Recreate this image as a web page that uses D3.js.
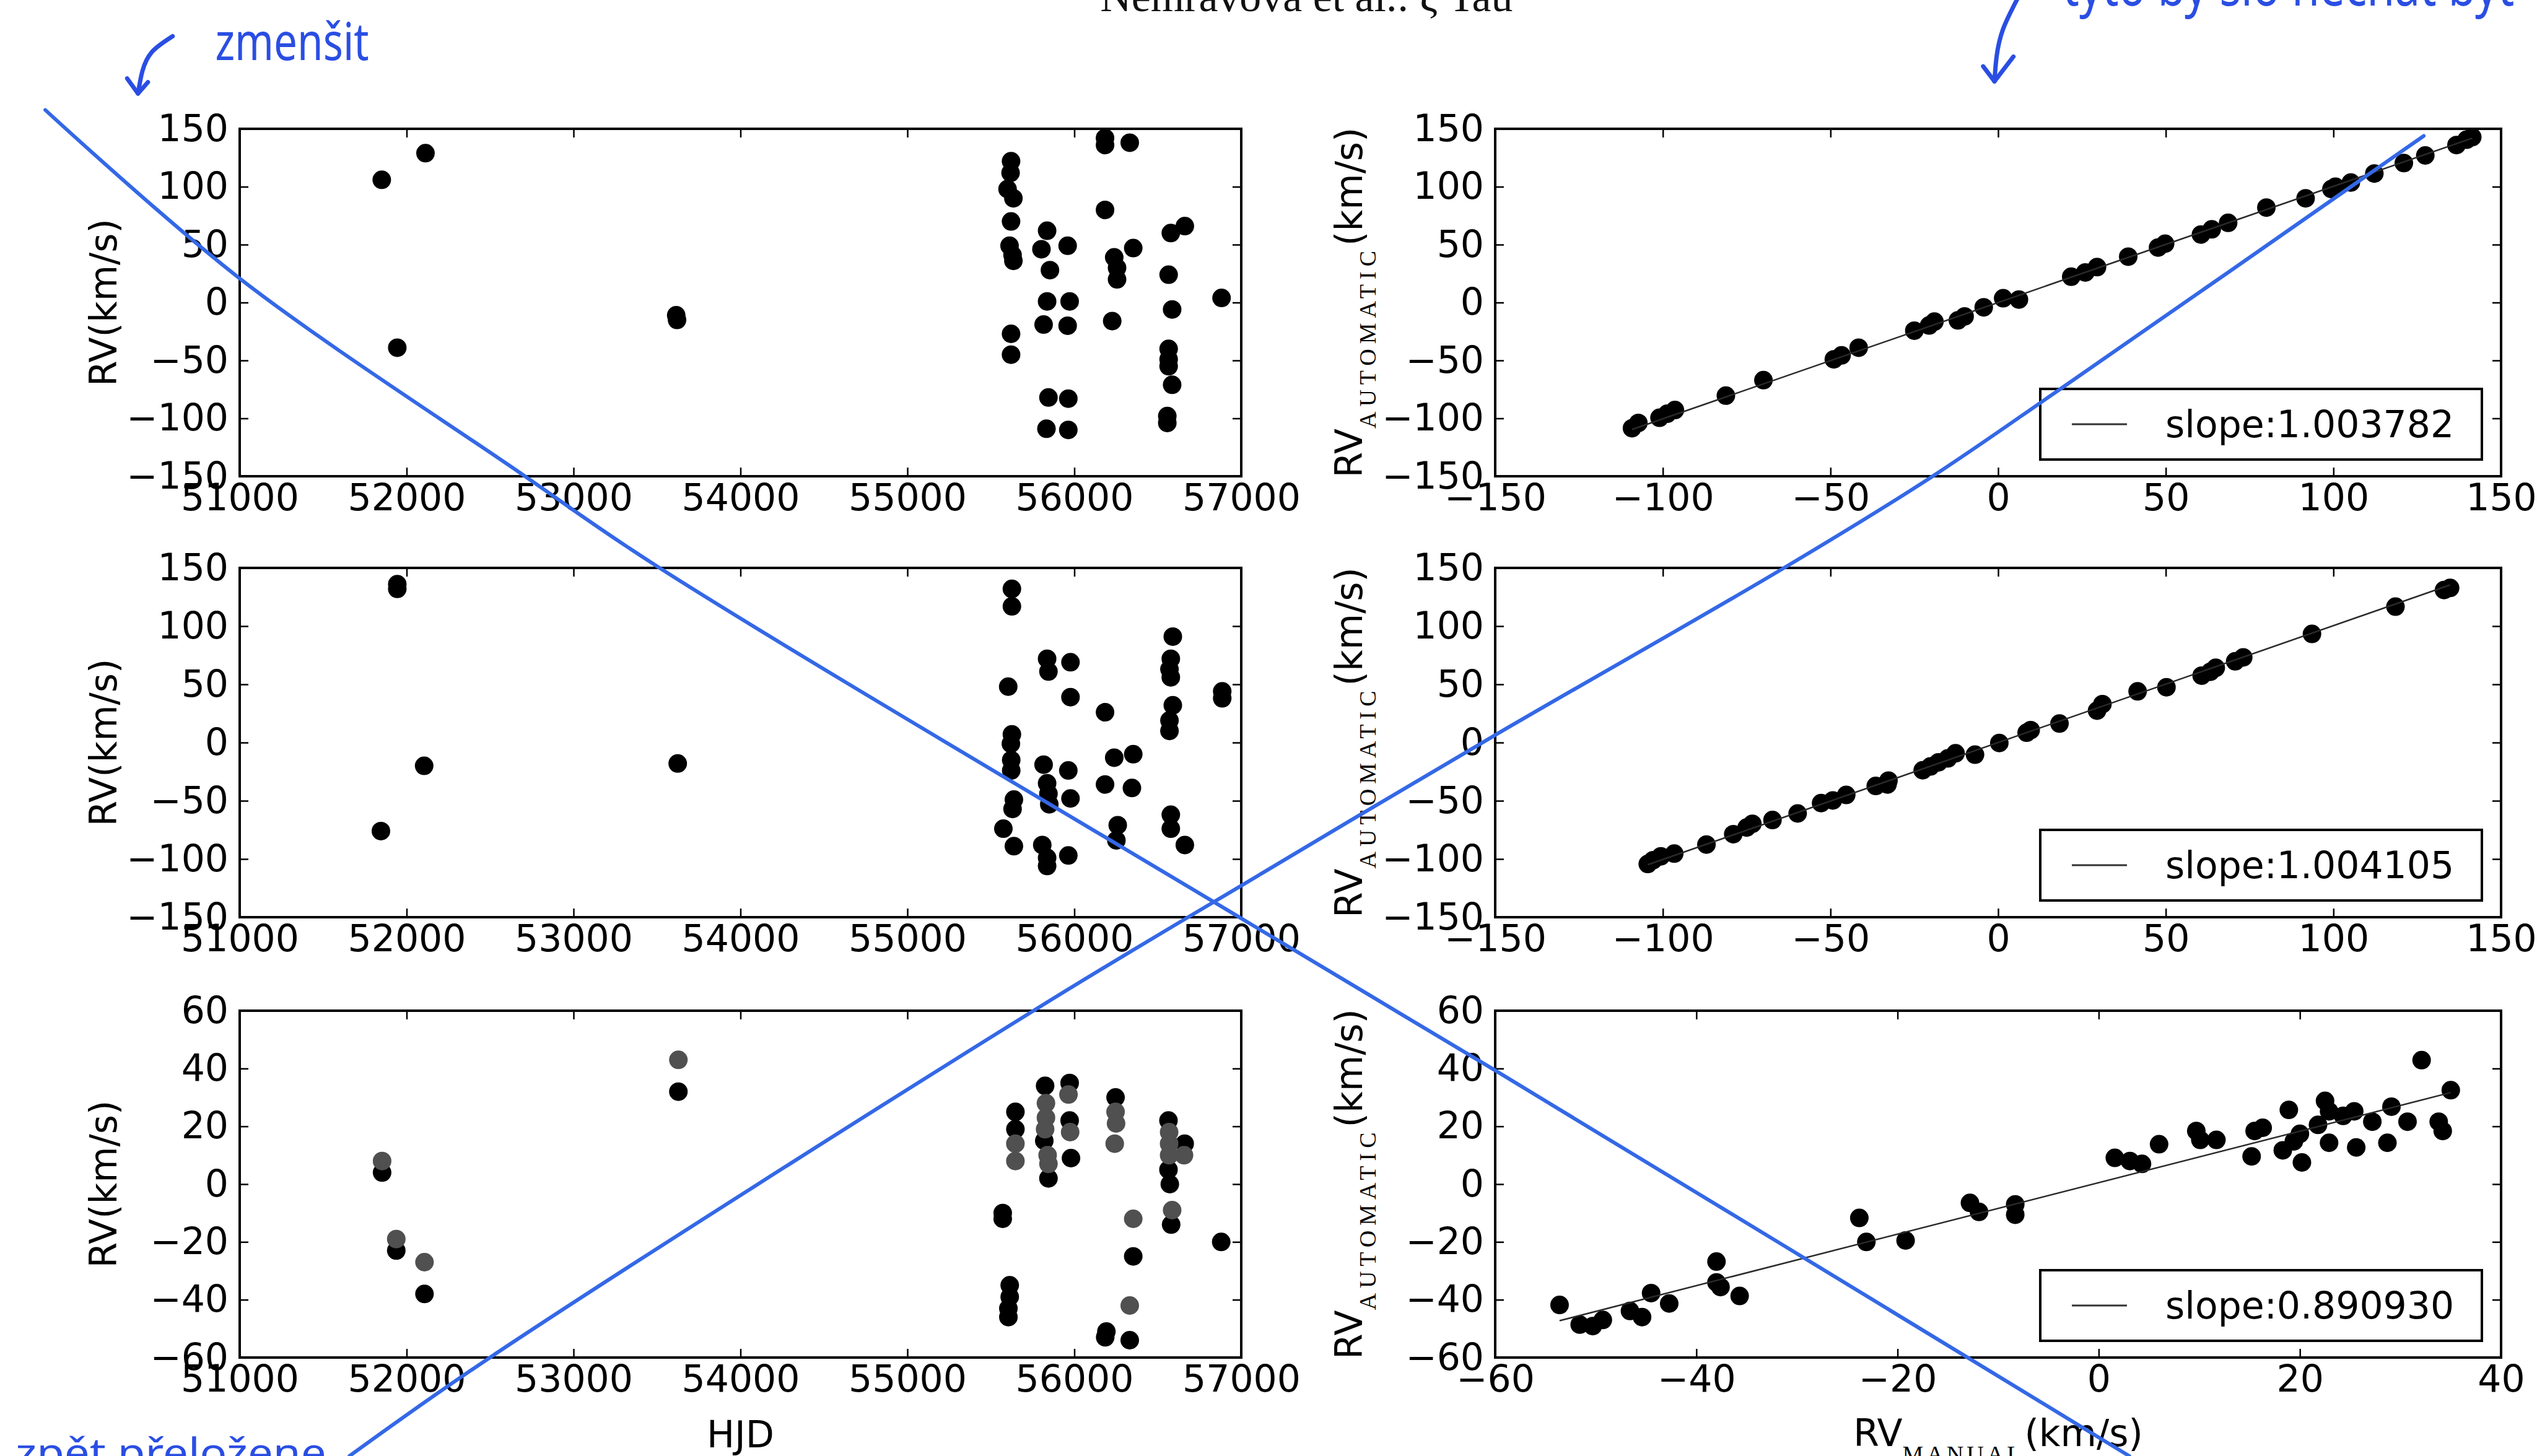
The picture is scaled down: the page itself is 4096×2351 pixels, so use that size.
<!DOCTYPE html>
<html><head><meta charset="utf-8">
<script src="https://cdnjs.cloudflare.com/ajax/libs/d3/7.8.5/d3.min.js"></script>
<style>body{margin:0;background:#fff}svg{display:block}</style>
</head><body>
<script>
// ---------------- DATA ----------------
const hjdTicks = [51000,52000,53000,54000,55000,56000,57000];
const rvTicks = [-150,-100,-50,0,50,100,150];
const rvTicksSmall = [-60,-40,-20,0,20,40,60];
const manTicks = [-150,-100,-50,0,50,100,150];
const manTicksSmall = [-60,-40,-20,0,20,40];

const hjd1 = [51851,52113,51944,53615,53620,55621,55618,55600,55635,55621,55612,55630,55635,55621,55621,55837,55803,55854,55837,55816,55845,55833,55960,55972,55960,55964,55964,56184,56184,56332,56184,56239,56256,56256,56227,56353,56578,56662,56565,56586,56565,56565,56565,56586,56557,56557,56882];
const rv1  = [106,129,-39,-11,-15,122,112,98,90,70,49,41,36,-27,-45,62,46,28,1,-19,-82,-109,49,1,-20,-83,-110,142,136,138,80,39,30,20,-16,47,60,66,24,-6,-40,-49,-55,-71,-98,-104,4];

const hjd2 = [51944,51944,51846,52105,53624,55626,55626,55604,55626,55620,55622,55622,55638,55630,55575,55638,55837,55845,55816,55837,55845,55850,55808,55837,55837,55977,55977,55964,55977,55964,56184,56239,56184,56260,56252,56353,56345,56590,56578,56570,56578,56590,56570,56570,56578,56578,56662,56886,56886];
const rv2  = [132,136,-76,-20,-18,132,117,48,7,-1,-15,-24,-49,-57,-74,-89,72,61,-19,-35,-44,-53,-88,-99,-106,69,39,-24,-48,-97,26,-13,-36,-71,-84,-10,-39,91,72,63,56,32,19,10,-62,-74,-88,44,38];

const hjd3Black = [51853,51938,52107,53628,55571,55571,55613,55613,55605,55605,55647,55647,55825,55820,55845,55972,55972,55980,56192,56185,56247,56353,56332,56564,56564,56572,56580,56661,56880];
const rv3Black  = [4,-23,-38,32,-10,-12,-35,-39,-43,-46,25,19,34,15,2,35,22,9,-51,-53,30,-25,-54,22,5,0,-14,14,-20];
const hjd3Grey  = [51853,51938,52107,53628,55647,55647,55830,55830,55825,55840,55845,55965,55975,56247,56250,56242,56353,56332,56568,56568,56568,56586,56657];
const rv3Grey   = [8,-19,-27,43,14,8,28,23,19,10,7,31,18,25,21,14,-12,-42,18,14,10,-9,10];

const man1  = [-109.2,-107.3,-101,-98.7,-96.4,-81.2,-70,-49,-46.7,-41.6,-25,-20.6,-19,-12,-10,-4.3,1.5,6.2,21.8,26,29.5,38.8,47.7,49.8,60.5,63.7,68.6,80,91.7,99.4,100.6,105.2,112.2,121,127.4,136.7,139.7,141.4];
const auto1 = [-108.5,-104,-99.5,-96,-92.8,-80.4,-67,-49,-45.6,-39,-24.3,-19.8,-16.5,-15.4,-12,-4.1,3.7,2.6,22.3,26,30.6,39.6,47.5,50.8,58.7,63.2,68.8,82,90,98,100,103.6,111.4,120.4,127,136,140.6,142.8];

const man2  = [-104.5,-102.9,-100.6,-96.6,-87,-79,-75,-73.3,-67.3,-59.8,-52.8,-49.3,-45.3,-36.5,-33,-32.7,-22.5,-20.2,-17.8,-15,-12.7,-6.9,0.35,8.5,9.7,18.3,29.5,31.1,41.6,50.2,60.7,63.3,64.9,70.7,73.1,93.6,118.5,133,134.8];
const auto2 = [-104.3,-101,-97.7,-95.4,-87.6,-78.7,-73,-69.8,-66.5,-60.9,-52,-49.7,-45,-37.3,-36,-32.7,-23.8,-20.5,-17,-13.6,-9.2,-10.4,-0.4,8.5,10.7,16.3,27.4,33,44,47.5,57.5,60.8,64.2,69.8,73.2,93.3,116.7,131,132.8];

const man3  = [-53.6,-51.6,-50.3,-49.3,-46.6,-45.4,-44.5,-42.7,-38,-38,-37.6,-35.7,-23.8,-23.1,-19.2,-12.8,-11.9,-8.3,-8.3,1.6,3.1,4.3,6,9.7,10.1,11.7,15.2,15.5,16.3,18.9,18.3,19.4,20,20.2,22.5,22.9,22.9,24.3,25.6,27.2,29.1,28.7,30.7,32.1,33.8,34.2,35,21.8,25.4];
const auto3 = [-41.8,-48.6,-49.1,-47,-43.9,-46,-37.7,-41.3,-26.8,-34,-35.6,-38.7,-11.7,-20,-19.5,-6.5,-9.6,-7,-10.6,9.1,8,7,13.8,18.4,15.3,15.3,9.6,18.4,19.5,25.7,11.7,14.8,17.4,7.5,28.8,25.2,14.3,23.6,12.7,21.6,26.8,14.3,21.6,42.9,21.6,18.4,32.5,20.5,25.2];

const slopes = [1.003782, 1.004105, 0.890930];
const intercepts = [0, 0, 0.5];
const legendLabels = ["slope:1.003782", "slope:1.004105", "slope:0.890930"];

const titleText = "Nemravová et al.: ζ Tau";
const noteTexts = ["zmenšit", "tyto by šlo nechat být", "zpět přeložene"];
// hand-drawn cross-out strokes, in reference-page units (1568 x 900 page)
const strokeA = [[28,68],[148,172],[321,292],[406,350],[766,567],[923,661],[1316,900]];
const strokeB = [[216,900],[303,839],[640,624],[783,538],[923,455],[1101,352],[1192,296],[1274,240],[1498,84]];

// ---------------- LAYOUT ----------------
const W = 4096, H = 2351;
const px = d3.scaleLinear().domain([0,1568]).range([0,W]);
const py = d3.scaleLinear().domain([0,900]).range([0,H]);
const leftX = [387, 2004], rightX = [2414, 4038];
const rowsY = [[208,769],[917,1481],[1632,2192]];
const FONT = "'DejaVu Sans','Bitstream Vera Sans',sans-serif";
const SERIF = "'Liberation Serif','DejaVu Serif',serif";
const fmt = d => d < 0 ? "\u2212" + Math.abs(d) : String(d);

const svg = d3.select("body").append("svg").attr("width", W).attr("height", H)
  .style("background", "#fff");

let clipId = 0;
function panel(xr, yr, xdom, ydom, xticks, yticks) {
  const x = d3.scaleLinear().domain(xdom).range(xr);
  const y = d3.scaleLinear().domain(ydom).range([yr[1], yr[0]]);
  const g = svg.append("g");
  const id = "clip" + (clipId++);
  svg.append("clipPath").attr("id", id).append("rect")
    .attr("x", xr[0]).attr("y", yr[0]).attr("width", xr[1]-xr[0]).attr("height", yr[1]-yr[0]);
  const plot = g.append("g").attr("clip-path", `url(#${id})`);
  const ax = (gen, tr, labels, pad) => {
    const a = g.append("g").attr("transform", tr)
      .call(gen.tickSize(-14).tickPadding(pad).tickFormat(labels ? fmt : ""));
    a.select(".domain").remove();
    a.selectAll("line").attr("stroke", "#000").attr("stroke-width", 2.5);
    a.selectAll("text").attr("font-family", FONT).attr("font-size", 60).attr("fill", "#000");
  };
  ax(d3.axisBottom(x).tickValues(xticks), `translate(0,${yr[1]})`, true, 12);
  ax(d3.axisTop(x).tickValues(xticks), `translate(0,${yr[0]})`, false, 0);
  ax(d3.axisLeft(y).tickValues(yticks), `translate(${xr[0]},0)`, true, 18);
  ax(d3.axisRight(y).tickValues(yticks), `translate(${xr[1]},0)`, false, 0);
  return {x, y, g, plot, xr, yr};
}
function frame(p) {
  p.g.append("rect").attr("x", p.xr[0]).attr("y", p.yr[0])
    .attr("width", p.xr[1]-p.xr[0]).attr("height", p.yr[1]-p.yr[0])
    .attr("fill", "none").attr("stroke", "#000").attr("stroke-width", 4);
}
function dots(p, xs, ys, color) {
  p.plot.selectAll(null).data(xs.map((v,i)=>[v, ys[i]])).enter().append("circle")
    .attr("cx", d => p.x(d[0])).attr("cy", d => p.y(d[1])).attr("r", 15).attr("fill", color);
}

// Left column: RV vs HJD
const lp1 = panel(leftX, rowsY[0], [51000,57000], [-150,150], hjdTicks, rvTicks);
dots(lp1, hjd1, rv1, "#000"); frame(lp1);
const lp2 = panel(leftX, rowsY[1], [51000,57000], [-150,150], hjdTicks, rvTicks);
dots(lp2, hjd2, rv2, "#000"); frame(lp2);
const lp3 = panel(leftX, rowsY[2], [51000,57000], [-60,60], hjdTicks, rvTicksSmall);
dots(lp3, hjd3Black, rv3Black, "#000"); dots(lp3, hjd3Grey, rv3Grey, "#505050"); frame(lp3);

// Right column: automatic vs manual
const rightSets = [
  {xd:[-150,150], yd:[-150,150], xt:manTicks, yt:rvTicks, m:man1, a:auto1},
  {xd:[-150,150], yd:[-150,150], xt:manTicks, yt:rvTicks, m:man2, a:auto2},
  {xd:[-60,40], yd:[-60,60], xt:manTicksSmall, yt:rvTicksSmall, m:man3, a:auto3}
];
rightSets.forEach((s, i) => {
  const p = panel(rightX, rowsY[i], s.xd, s.yd, s.xt, s.yt);
  dots(p, s.m, s.a, "#000");
  const ext = d3.extent(s.m);
  const line = d3.line().x(d => p.x(d)).y(d => p.y(slopes[i]*d + intercepts[i]));
  p.plot.append("path").attr("d", line(ext)).attr("stroke", "#2a2a2a")
    .attr("stroke-width", 2.5).attr("fill", "none");
  frame(p);
  // legend
  const bw = 713, bh = 114;
  const bx = rightX[1] - 31 - bw, by = rowsY[i][1] - 27 - bh;
  const lg = p.g.append("g").attr("transform", `translate(${bx},${by})`);
  lg.append("rect").attr("width", bw).attr("height", bh).attr("fill", "#fff")
    .attr("stroke", "#000").attr("stroke-width", 4);
  lg.append("line").attr("x1", 51).attr("x2", 140).attr("y1", bh/2).attr("y2", bh/2)
    .attr("stroke", "#333").attr("stroke-width", 3);
  lg.append("text").attr("x", 202).attr("y", bh/2 + 21).attr("font-family", FONT)
    .attr("font-size", 60).attr("fill", "#000").text(legendLabels[i]);
});

// Axis labels
rowsY.forEach(r => {
  const cy = (r[0] + r[1]) / 2;
  svg.append("text").attr("transform", `translate(188,${cy}) rotate(-90)`)
    .attr("text-anchor", "middle").attr("font-family", FONT).attr("font-size", 60)
    .attr("fill", "#000").text("RV(km/s)");
  const t = svg.append("text").attr("transform", `translate(2199,${cy}) rotate(-90)`)
    .attr("text-anchor", "middle").attr("font-family", FONT).attr("font-size", 60).attr("fill", "#000");
  t.append("tspan").text("RV");
  t.append("tspan").attr("font-family", SERIF).attr("font-size", 38).attr("dy", 22)
    .attr("letter-spacing", 8).text("AUTOMATIC");
  t.append("tspan").attr("dy", -22).text("(km/s)");
});
svg.append("text").attr("x", (leftX[0]+leftX[1])/2).attr("y", 2337).attr("text-anchor", "middle")
  .attr("font-family", FONT).attr("font-size", 60).attr("fill", "#000").text("HJD");
{
  const t = svg.append("text").attr("x", (rightX[0]+rightX[1])/2).attr("y", 2335)
    .attr("text-anchor", "middle").attr("font-family", FONT).attr("font-size", 60).attr("fill", "#000");
  t.append("tspan").text("RV");
  t.append("tspan").attr("font-family", SERIF).attr("font-size", 38).attr("dy", 26)
    .attr("letter-spacing", 5).text("MANUAL");
  t.append("tspan").attr("dy", -26).text("(km/s)");
}

// Running title (cut at top edge of the scan)
svg.append("text").attr("x", px(807.5)).attr("y", 18).attr("text-anchor", "middle")
  .attr("font-family", SERIF).attr("font-size", 69).attr("fill", "#111")
  .attr("textLength", px(255)).attr("lengthAdjust", "spacingAndGlyphs").text(titleText);

// ---------------- hand annotations ----------------
const BLUE = "#3468e6", INK = "#2a4ee3";
const ann = svg.append("g").attr("fill", "none").attr("stroke-linecap", "round").attr("stroke-linejoin", "round");
const pline = d3.line().x(d => px(d[0])).y(d => py(d[1])).curve(d3.curveCatmullRom);
ann.append("path").attr("d", pline(strokeA)).attr("stroke", BLUE).attr("stroke-width", 6);
ann.append("path").attr("d", pline(strokeB)).attr("stroke", BLUE).attr("stroke-width", 6);

const curve = d3.line().x(d => px(d[0])).y(d => py(d[1])).curve(d3.curveNatural);
ann.append("path").attr("d", curve([[106.7,22.4],[94,32],[88,44],[85.3,57.8]])).attr("stroke", INK).attr("stroke-width", 7);
ann.append("path").attr("d", d3.line().x(d=>px(d[0])).y(d=>py(d[1]))([[78.6,48.5],[85.3,57.8],[91.4,50.8]])).attr("stroke", INK).attr("stroke-width", 7);
ann.append("path").attr("d", curve([[1247,-1],[1238,18],[1234,35],[1232.7,50.3]])).attr("stroke", INK).attr("stroke-width", 7);
ann.append("path").attr("d", d3.line().x(d=>px(d[0])).y(d=>py(d[1]))([[1225.7,41],[1232.7,50.3],[1244.4,35]])).attr("stroke", INK).attr("stroke-width", 7);

svg.append("text").attr("x", px(133)).attr("y", py(37)).attr("font-family", "'Noto Sans',sans-serif")
  .attr("font-size", 84).attr("fill", INK).attr("textLength", px(95)).attr("lengthAdjust", "spacingAndGlyphs")
  .text(noteTexts[0]);
svg.append("text").attr("x", px(1275)).attr("y", 9).attr("font-family", "'Noto Sans',sans-serif")
  .attr("font-size", 94).attr("fill", INK).attr("textLength", px(279)).attr("lengthAdjust", "spacingAndGlyphs")
  .text(noteTexts[1]);
svg.append("text").attr("x", px(9.6)).attr("y", 2368).attr("font-family", "'Noto Sans',sans-serif")
  .attr("font-size", 64).attr("fill", INK).attr("textLength", px(192)).attr("lengthAdjust", "spacingAndGlyphs")
  .text(noteTexts[2]);
</script>
</body></html>
